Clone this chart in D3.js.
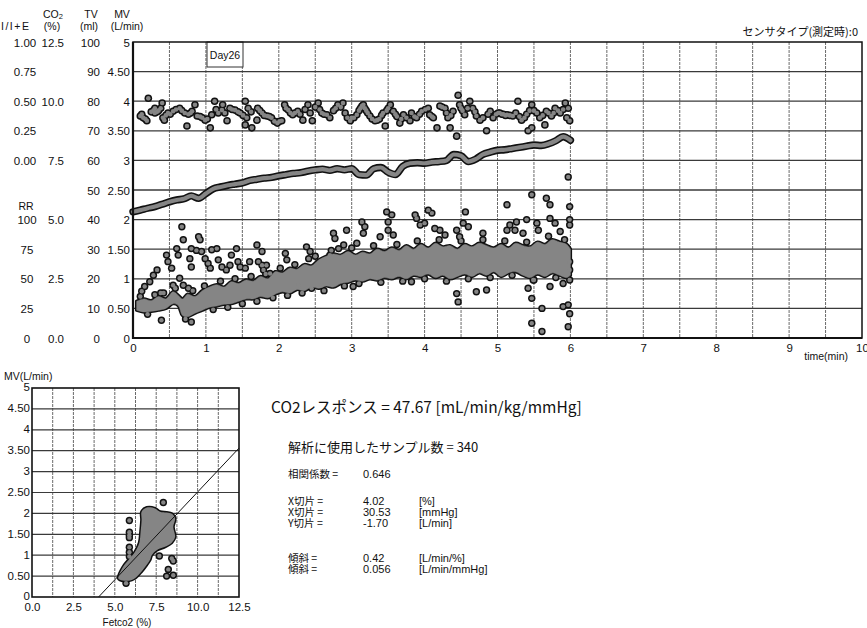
<!DOCTYPE html>
<html>
<head>
<meta charset="utf-8">
<script src="https://cdn.jsdelivr.net/npm/d3@7"></script>
<style>
body { margin: 0; background: #fff; }
svg { display: block; }
text { font-family: "Liberation Sans", Arial, sans-serif; fill: #111; }
.jp { font-family: "Noto Sans CJK JP", sans-serif; }
</style>
</head>
<body>
<script>
var width = 867;
var height = 628;

// ---- axis labels of the trend chart ----
var timeTicks = [0, 1, 2, 3, 4, 5, 6, 7, 8, 9, 10];
var mvTicks = [5, 4.5, 4, 3.5, 3, 2.5, 2, 1.5, 1, 0.5, 0];
var mvLabels = ["5", "4.50", "4", "3.50", "3", "2.50", "2", "1.50", "1", "0.50", "0"];
var tvTicks = [100, 90, 80, 70, 60, 50, 40, 30, 20, 10, 0];
var co2Ticks = [12.5, 10, 7.5, 5, 2.5, 0];
var co2Labels = ["12.5", "10.0", "7.5", "5.0", "2.5", "0.0"];
var ieTicks = [1, 0.75, 0.5, 0.25, 0];
var ieLabels = ["1.00", "0.75", "0.50", "0.25", "0.00"];
var rrTicks = [100, 75, 50, 25, 0];

// EtCO2 (%) every 0.1 min from 0 to 6
var co2Times = d3.range(0, 61).map(function (i) { return i / 10; });
var co2Values = [5.33, 5.40, 5.48, 5.55, 5.65, 5.75, 5.83, 5.88, 6.00, 5.90,
  6.10, 6.30, 6.38, 6.45, 6.50, 6.55, 6.65, 6.70, 6.75, 6.78,
  6.85, 6.90, 6.95, 6.98, 7.05, 7.10, 7.13, 7.08, 7.15, 7.10,
  7.15, 6.90, 6.88, 7.15, 7.20, 7.00, 6.90, 7.25, 7.38, 7.40,
  7.38, 7.43, 7.45, 7.50, 7.75, 7.70, 7.45, 7.55, 7.75, 7.85,
  7.93, 7.95, 8.00, 8.05, 8.10, 8.15, 8.13, 8.20, 8.33, 8.50, 8.35];

// I/I+E samples [time, ratio]
var iePoints = [[0.10,0.375],[0.12,0.39],[0.14,0.36],[0.17,0.35],[0.19,0.335],[0.21,0.525],[0.25,0.41],[0.28,0.42],
  [0.30,0.44],[0.30,0.40],[0.33,0.41],[0.35,0.42],[0.38,0.44],
  [0.40,0.485],[0.41,0.36],[0.43,0.34],[0.45,0.38],[0.48,0.40],[0.51,0.39],[0.55,0.415],[0.59,0.43],[0.64,0.44],
  [0.67,0.42],[0.71,0.40],[0.74,0.29],[0.76,0.39],[0.79,0.40],[0.81,0.415],[0.85,0.47],[0.88,0.375],[0.92,0.37],[0.95,0.36],
  [0.99,0.34],[1.02,0.35],[1.06,0.275],[1.08,0.385],[1.12,0.50],[1.14,0.43],[1.17,0.40],[1.22,0.425],[1.23,0.47],
  [1.26,0.40],[1.29,0.335],[1.33,0.44],[1.36,0.43],[1.40,0.425],[1.44,0.41],[1.47,0.40],[1.51,0.38],[1.54,0.50],
  [1.56,0.36],[1.58,0.44],[1.54,0.30],[1.62,0.41],[1.63,0.275],[1.70,0.34],[1.71,0.44],[1.74,0.42],[1.77,0.40],
  [1.80,0.38],[1.84,0.375],[1.87,0.37],[1.90,0.36],[1.94,0.33],[1.98,0.315],[2.01,0.33],[2.04,0.335],[2.08,0.47],[2.10,0.44],[2.13,0.425],
  [2.16,0.40],[2.19,0.385],[2.22,0.40],[2.26,0.415],[2.29,0.39],[2.33,0.34],[2.36,0.43],[2.40,0.47],[2.43,0.40],[2.46,0.335],
  [2.50,0.45],[2.54,0.485],[2.56,0.43],[2.59,0.40],[2.62,0.39],[2.66,0.385],[2.70,0.36],[2.75,0.42],[2.78,0.44],[2.81,0.47],[2.85,0.45],
  [2.88,0.485],[2.91,0.40],[2.94,0.36],[2.98,0.335],[3.00,0.36],[3.03,0.36],[3.07,0.385],[3.10,0.42],[3.12,0.44],[3.14,0.46],[3.16,0.47],[3.18,0.44],[3.20,0.42],
  [3.22,0.40],[3.25,0.375],[3.28,0.35],[3.32,0.335],[3.35,0.34],[3.38,0.35],[3.41,0.38],[3.43,0.40],[3.46,0.29],[3.48,0.42],[3.50,0.44],[3.53,0.47],[3.57,0.415],
  [3.60,0.39],[3.62,0.37],[3.66,0.315],[3.68,0.35],[3.71,0.385],[3.75,0.36],[3.80,0.335],[3.82,0.40],[3.86,0.37],[3.89,0.36],[3.93,0.39],
  [3.96,0.415],[4.01,0.43],[4.05,0.44],[4.07,0.385],[4.10,0.37],[4.12,0.36],[4.17,0.275],[4.21,0.46],[4.24,0.45],[4.28,0.44],
  [4.30,0.40],[4.32,0.36],[4.35,0.275],[4.36,0.38],[4.39,0.415],[4.44,0.205],[4.46,0.55],[4.48,0.47],[4.50,0.44],[4.52,0.42],[4.55,0.385],
  [4.59,0.44],[4.62,0.50],[4.66,0.44],[4.69,0.41],[4.71,0.375],[4.76,0.34],[4.80,0.36],[4.85,0.25],[4.87,0.39],[4.90,0.415],
  [4.94,0.36],[4.98,0.39],[5.01,0.40],[5.03,0.40],[5.06,0.39],[5.08,0.39],[5.11,0.38],[5.13,0.385],[5.17,0.38],[5.21,0.375],[5.25,0.40],[5.28,0.50],
  [5.30,0.37],[5.33,0.34],[5.37,0.36],[5.40,0.39],[5.42,0.25],[5.44,0.42],[5.47,0.275],[5.47,0.47],[5.50,0.42],[5.54,0.40],[5.58,0.36],[5.62,0.38],
  [5.65,0.30],[5.67,0.415],[5.70,0.40],[5.74,0.375],[5.77,0.40],[5.79,0.44],[5.83,0.42],[5.86,0.40],[5.90,0.43],
  [5.93,0.485],[5.95,0.36],[5.97,0.44],[5.99,0.335]];

// MV dense core [time, low, high] (L/min)
var mvCore = [[0.05,0.47,0.62],[0.15,0.44,0.66],[0.25,0.45,0.63],[0.35,0.47,0.70],[0.45,0.50,0.66],[0.55,0.58,0.78],
  [0.62,0.55,0.72],[0.68,0.38,0.66],[0.75,0.36,0.74],[0.85,0.42,0.70],[0.95,0.47,0.80],[1.05,0.52,0.86],
  [1.15,0.54,0.90],[1.25,0.57,0.86],[1.35,0.58,0.95],[1.45,0.62,0.92],[1.55,0.66,0.98],[1.65,0.66,0.96],
  [1.75,0.70,1.04],[1.85,0.68,1.00],[1.95,0.74,1.12],[2.05,0.78,1.10],[2.15,0.76,1.18],[2.25,0.82,1.16],
  [2.35,0.80,1.24],[2.45,0.86,1.22],[2.55,0.84,1.32],[2.65,0.88,1.38],[2.75,0.86,1.42],[2.85,0.92,1.40],
  [2.95,0.94,1.46],[3.05,0.98,1.40],[3.15,0.96,1.45],[3.25,1.00,1.42],[3.35,0.98,1.50],[3.45,1.02,1.46],
  [3.55,1.00,1.52],[3.65,1.04,1.48],[3.75,1.00,1.56],[3.85,1.06,1.50],[3.95,1.04,1.58],[4.05,1.08,1.52],
  [4.15,1.02,1.60],[4.25,1.06,1.54],[4.35,1.00,1.56],[4.45,1.04,1.50],[4.55,1.08,1.58],[4.65,1.04,1.54],
  [4.75,1.10,1.60],[4.85,1.06,1.56],[4.95,1.12,1.52],[5.05,1.04,1.58],[5.15,1.10,1.52],[5.25,1.12,1.60],
  [5.35,1.06,1.56],[5.45,1.02,1.54],[5.55,1.08,1.62],[5.65,1.04,1.58],[5.75,1.10,1.66],[5.85,1.06,1.62],
  [5.95,1.02,1.58],[6.00,1.06,1.50]];

// MV scattered samples [time, L/min]
var mvPoints = [[0.67,1.88],[0.69,1.66],[0.90,1.71],[0.92,1.66],[0.46,1.40],[0.48,1.29],[0.60,1.51],[0.62,1.40],
  [0.53,1.18],[0.64,1.01],[0.55,0.89],[0.28,1.06],[0.33,1.15],[0.16,0.87],[0.23,0.95],[0.12,0.79],[0.30,0.73],
  [0.42,0.76],[0.39,0.30],[0.80,0.27],[0.80,1.51],[0.87,1.48],[0.94,1.46],[0.78,1.34],[0.80,1.20],[0.69,0.89],
  [0.76,0.84],[0.99,1.34],[1.03,1.26],[1.08,1.49],[1.15,1.51],[1.06,1.18],[1.17,1.32],[1.22,1.20],[1.28,1.15],
  [1.33,1.23],[1.35,1.40],[1.42,1.51],[1.44,1.29],[1.47,1.20],[1.54,1.18],[1.60,1.29],[1.70,1.57],[1.77,1.46],
  [1.72,1.29],[1.77,1.23],[1.83,1.23],[1.88,1.09],[1.79,1.15],[2.09,1.43],[2.11,1.32],[2.38,1.54],[2.43,1.46],
  [2.41,1.34],[2.27,0.89],[2.45,0.84],[2.59,0.89],[2.75,1.77],[2.77,1.68],[2.93,1.82],[2.82,1.51],[2.89,1.57],
  [2.70,1.40],[3.02,0.87],[3.14,1.96],[3.18,1.88],[3.16,1.77],[3.07,1.60],[3.39,1.71],[3.48,2.13],[3.55,2.08],
  [3.50,1.96],[3.50,1.82],[3.57,1.74],[3.82,0.95],[3.87,2.08],[3.89,2.02],[3.94,1.91],[4.00,1.94],[4.05,2.16],
  [4.10,2.11],[4.14,1.85],[4.21,1.82],[4.28,1.74],[4.44,0.75],[4.46,0.61],[4.56,2.13],[4.53,1.94],[4.60,1.88],
  [4.44,1.82],[4.48,1.71],[4.71,0.78],[4.85,0.81],[4.80,1.77],[5.13,2.25],[5.13,1.82],[5.17,1.91],[5.26,1.96],
  [5.24,1.82],[5.35,1.77],[5.47,2.42],[5.40,2.00],[5.54,1.94],[5.56,1.82],[5.67,2.36],[5.72,2.25],[5.72,2.02],
  [5.79,1.94],[5.86,1.80],[5.99,2.22],[5.99,2.00],[5.99,1.91],[5.42,0.84],[5.47,0.67],[5.61,0.50],[5.47,0.25],
  [5.61,0.11],[5.90,0.53],[5.97,0.56],[5.99,0.41],[5.97,0.19],[5.99,0.98],[5.99,1.15],[5.99,1.29],[5.90,0.92],
  [5.72,0.87],[5.49,0.98],[5.97,2.72],
  [0.10,0.70],[0.20,0.40],[0.38,0.76],[0.58,0.84],[0.72,0.32],[0.82,0.80],[0.98,0.88],[1.10,0.48],[1.20,0.96],
  [1.30,0.52],[1.40,1.00],[1.50,0.58],[1.62,1.04],[1.70,0.62],[1.82,1.08],[1.92,0.68],[2.02,1.18],[2.12,0.72],
  [2.22,1.24],[2.32,0.76],[2.50,1.38],[2.62,0.80],[2.72,1.48],[2.90,0.88],[3.00,1.52],[3.10,0.92],[3.30,1.56],
  [3.40,0.94],[3.62,1.58],[3.70,0.96],[3.90,1.64],[4.00,1.00],[4.20,1.66],[4.30,0.96],[4.50,1.64],[4.60,1.00],
  [4.80,1.66],[4.90,1.02],[5.10,1.64],[5.20,1.06],[5.40,1.62],[5.50,0.98],[5.70,1.72],[5.80,1.02],[5.92,1.66]];

// ---- CO2 response scatter (Fetco2 % vs MV L/min) ----
var fTicks = [0, 2.5, 5, 7.5, 10, 12.5];
var fLabels = ["0.0", "2.5", "5.0", "7.5", "10.0", "12.5"];
var blobOutline = [[5.21,0.45],[5.51,0.73],[5.92,0.93],[6.22,1.08],[6.48,1.30],[6.56,1.56],[6.62,1.84],[6.62,2.04],
  [6.93,2.14],[7.43,2.12],[7.73,2.04],[8.13,2.02],[8.44,1.99],[8.64,1.88],[8.53,1.68],[8.64,1.44],[8.44,1.30],
  [8.03,1.20],[7.53,1.12],[7.23,1.00],[7.13,0.89],[6.93,0.77],[6.62,0.61],[6.22,0.45],[5.82,0.39],[5.31,0.41]];
var respPoints = [[7.93,2.26],[5.88,1.83],[5.88,1.55],[5.88,1.48],[5.88,1.42],[5.88,1.19],[5.88,1.07],[5.88,0.97],
  [5.68,0.33],[7.69,0.98],[8.44,0.92],[8.53,0.86],[8.23,0.66],[8.13,0.50],[8.53,0.52]];
var regSlope = 0.42;
var regXint = 4.02;

var statLabels = ["相関係数 =", "X切片 =", "X切片 =", "Y切片 =", "傾斜 =", "傾斜 ="];
var statValues = ["0.646", "4.02", "30.53", "-1.70", "0.42", "0.056"];
var statUnits = ["", "[%]", "[mmHg]", "[L/min]", "[L/min/%]", "[L/min/mmHg]"];

var svg = d3.select("body").append("svg").attr("width", width).attr("height", height);

var x = d3.scaleLinear().domain([0, 10]).range([133, 862]);
var y = d3.scaleLinear().domain([0, 5]).range([338, 42]);
var yCo2 = d3.scaleLinear().domain([0, 12.5]).range([y(0), y(5)]);
var yTv = d3.scaleLinear().domain([0, 100]).range([y(0), y(5)]);
var yIe = d3.scaleLinear().domain([0, 1]).range([y(3), y(5)]);
var yRr = d3.scaleLinear().domain([0, 100]).range([y(0), y(2)]);

function labelAxis(scale, vals, labels, xpos, anchor) {
  var ax = d3.axisLeft(scale).tickValues(vals).tickSize(0).tickPadding(0)
    .tickFormat(function (d, i) { return labels ? labels[i] : d; });
  var g = svg.append("g").attr("transform", "translate(" + xpos + ",0)").call(ax);
  g.select(".domain").remove();
  g.attr("font-family", null).attr("font-size", null);
  g.selectAll("text").attr("text-anchor", anchor).attr("font-size", 11.5).attr("dy", "0.36em");
  return g;
}

// grid
var grid = svg.append("g");
grid.selectAll(".vg").data(d3.range(1, 20)).enter().append("line")
  .attr("x1", function (d) { return x(d / 2); }).attr("x2", function (d) { return x(d / 2); })
  .attr("y1", y(5)).attr("y2", y(0))
  .attr("stroke", "#6a6a6a").attr("stroke-width", 1).attr("stroke-dasharray", "3,1");
grid.selectAll(".hg").data(d3.range(1, 10)).enter().append("line")
  .attr("x1", x(0)).attr("x2", x(10))
  .attr("y1", function (d) { return y(d / 2); }).attr("y2", function (d) { return y(d / 2); })
  .attr("stroke", "#3a3a3a").attr("stroke-width", 1.3);

// Day box
svg.append("rect").attr("x", 207).attr("y", y(5)).attr("width", 36).attr("height", 25)
  .attr("fill", "#fff").attr("stroke", "#333").attr("stroke-width", 1);
svg.append("text").attr("x", 225).attr("y", y(5) + 17).attr("text-anchor", "middle")
  .attr("font-size", 10.5).text("Day26");

// data marks: outline layer then fill layer, so overlapping dots merge
var gray = "#858585";
var bandArea = d3.area().x(function (d) { return x(d[0]); })
  .y0(function (d) { return y(d[1]); }).y1(function (d) { return y(d[2]); })
  .curve(d3.curveCatmullRom);
var co2Line = d3.line().x(function (d, i) { return x(co2Times[i]); })
  .y(function (d) { return yCo2(d); }).curve(d3.curveMonotoneX);

var outl = svg.append("g");
var fill = svg.append("g");
outl.append("path").attr("d", co2Line(co2Values)).attr("fill", "none")
  .attr("stroke", "#111").attr("stroke-width", 7.4).attr("stroke-linejoin", "round").attr("stroke-linecap", "round");
fill.append("path").attr("d", co2Line(co2Values)).attr("fill", "none")
  .attr("stroke", gray).attr("stroke-width", 4.2).attr("stroke-linejoin", "round").attr("stroke-linecap", "round");

outl.append("path").attr("d", bandArea(mvCore)).attr("fill", "#111")
  .attr("stroke", "#111").attr("stroke-width", 3.4).attr("stroke-linejoin", "round");
fill.append("path").attr("d", bandArea(mvCore)).attr("fill", gray).attr("stroke", gray).attr("stroke-width", 0.5);

outl.selectAll(".ie").data(iePoints).enter().append("circle")
  .attr("cx", function (d) { return x(d[0]); }).attr("cy", function (d) { return yIe(d[1]); })
  .attr("r", 3.8).attr("fill", "#111");
fill.selectAll(".ie").data(iePoints).enter().append("circle")
  .attr("cx", function (d) { return x(d[0]); }).attr("cy", function (d) { return yIe(d[1]); })
  .attr("r", 2.3).attr("fill", gray);
outl.selectAll(".mv").data(mvPoints).enter().append("circle")
  .attr("cx", function (d) { return x(d[0]); }).attr("cy", function (d) { return y(d[1]); })
  .attr("r", 3.7).attr("fill", "#111");
fill.selectAll(".mv").data(mvPoints).enter().append("circle")
  .attr("cx", function (d) { return x(d[0]); }).attr("cy", function (d) { return y(d[1]); })
  .attr("r", 2.2).attr("fill", gray);

// frame
svg.append("rect").attr("x", x(0)).attr("y", y(5)).attr("width", x(10) - x(0)).attr("height", y(0) - y(5))
  .attr("fill", "none").attr("stroke", "#111").attr("stroke-width", 1.5);
svg.append("line").attr("x1", x(0)).attr("x2", x(0)).attr("y1", y(5)).attr("y2", y(0) + 1)
  .attr("stroke", "#111").attr("stroke-width", 2.2);
svg.append("line").attr("x1", x(0)).attr("x2", x(10)).attr("y1", y(0)).attr("y2", y(0))
  .attr("stroke", "#111").attr("stroke-width", 2.2);

// time axis
var xa = svg.append("g").attr("transform", "translate(0," + (y(0) + 2) + ")")
  .call(d3.axisBottom(x).tickValues(timeTicks).tickSize(0).tickPadding(4).tickFormat(d3.format("d")));
xa.select(".domain").remove();
xa.attr("font-family", null).attr("font-size", null);
xa.selectAll("text").attr("font-size", 11.5);
svg.append("text").attr("x", 848).attr("y", 360).attr("text-anchor", "end").attr("font-size", 10.5).text("time(min)");

// left label columns
labelAxis(y, mvTicks, mvLabels, 130, "end");
labelAxis(yTv, tvTicks, null, 100, "end");
labelAxis(yCo2, co2Ticks, co2Labels, 64, "end");
labelAxis(yIe, ieTicks, ieLabels, 25, "middle");
labelAxis(yRr, rrTicks, null, 27, "middle");

var hdr = svg.append("g").attr("font-size", 10.5);
hdr.append("text").attr("x", 53).attr("y", 18).attr("text-anchor", "middle").html("CO<tspan font-size='7.5' dy='1'>2</tspan>");
hdr.append("text").attr("x", 91).attr("y", 18).attr("text-anchor", "middle").text("TV");
hdr.append("text").attr("x", 122).attr("y", 18).attr("text-anchor", "middle").text("MV");
hdr.append("text").attr("x", 1).attr("y", 30).attr("letter-spacing", 1.5).text("I/I+E");
hdr.append("text").attr("x", 52).attr("y", 30).attr("text-anchor", "middle").text("(%)");
hdr.append("text").attr("x", 89).attr("y", 30).attr("text-anchor", "middle").text("(ml)");
hdr.append("text").attr("x", 127).attr("y", 30).attr("text-anchor", "middle").text("(L/min)");
hdr.append("text").attr("x", 26).attr("y", 210).attr("text-anchor", "middle").text("RR");

svg.append("text").attr("class", "jp").attr("x", 858).attr("y", 36).attr("text-anchor", "end")
  .attr("font-size", 11).text("センサタイプ(測定時):0");

// ---- response scatter ----
var sx = d3.scaleLinear().domain([0, 12.5]).range([32, 239]);
var sy = d3.scaleLinear().domain([0, 5]).range([597, 388]);
var sg = svg.append("g");
sg.selectAll(".v").data(d3.range(1, 10)).enter().append("line")
  .attr("x1", function (d) { return sx(d * 1.25); }).attr("x2", function (d) { return sx(d * 1.25); })
  .attr("y1", sy(5)).attr("y2", sy(0))
  .attr("stroke", "#6a6a6a").attr("stroke-width", 1).attr("stroke-dasharray", "3,1");
sg.selectAll(".h").data(d3.range(1, 10)).enter().append("line")
  .attr("x1", sx(0)).attr("x2", sx(12.5))
  .attr("y1", function (d) { return sy(d / 2); }).attr("y2", function (d) { return sy(d / 2); })
  .attr("stroke", "#3a3a3a").attr("stroke-width", 1.2);

var blobLine = d3.line().x(function (d) { return sx(d[0]); }).y(function (d) { return sy(d[1]); })
  .curve(d3.curveCatmullRomClosed);
sg.append("path").attr("d", blobLine(blobOutline)).attr("fill", "#111").attr("stroke", "#111").attr("stroke-width", 3);
sg.selectAll(".ro").data(respPoints).enter().append("circle")
  .attr("cx", function (d) { return sx(d[0]); }).attr("cy", function (d) { return sy(d[1]); })
  .attr("r", 3.7).attr("fill", "#111");
sg.append("path").attr("d", blobLine(blobOutline)).attr("fill", gray);
sg.selectAll(".rf").data(respPoints).enter().append("circle")
  .attr("cx", function (d) { return sx(d[0]); }).attr("cy", function (d) { return sy(d[1]); })
  .attr("r", 2.2).attr("fill", gray);

sg.append("line").attr("x1", sx(regXint)).attr("y1", sy(0))
  .attr("x2", sx(12.5)).attr("y2", sy(regSlope * (12.5 - regXint)))
  .attr("stroke", "#111").attr("stroke-width", 1);

sg.append("rect").attr("x", sx(0)).attr("y", sy(5)).attr("width", sx(12.5) - sx(0)).attr("height", sy(0) - sy(5))
  .attr("fill", "none").attr("stroke", "#111").attr("stroke-width", 1.6);

var sya = svg.append("g").attr("transform", "translate(30,-1)")
  .call(d3.axisLeft(sy).tickValues(mvTicks).tickSize(0).tickPadding(0)
    .tickFormat(function (d, i) { return mvLabels[i]; }));
sya.select(".domain").remove();
sya.attr("font-family", null).attr("font-size", null);
sya.selectAll("text").attr("font-size", 11.5).attr("dy", "0.34em");
var sxa = svg.append("g").attr("transform", "translate(0," + (sy(0) + 4) + ")")
  .call(d3.axisBottom(sx).tickValues(fTicks).tickSize(0).tickPadding(2)
    .tickFormat(function (d, i) { return fLabels[i]; }));
sxa.select(".domain").remove();
sxa.attr("font-family", null).attr("font-size", null);
sxa.selectAll("text").attr("font-size", 11.5);
svg.append("text").attr("x", 4).attr("y", 380).attr("font-size", 10.5).text("MV(L/min)");
svg.append("text").attr("x", 127).attr("y", 626).attr("text-anchor", "middle").attr("font-size", 10)
  .text("Fetco2 (%)");

// ---- text block ----
var tb = svg.append("g");
tb.append("text").attr("class", "jp").attr("x", 271).attr("y", 413).attr("font-size", 15.5)
  .text("CO2レスポンス = 47.67 [mL/min/kg/mmHg]");
tb.append("text").attr("class", "jp").attr("x", 288).attr("y", 452).attr("font-size", 13)
  .text("解析に使用したサンプル数 = 340");
var rowY = [478, 505, 516, 527, 562, 573];
statLabels.forEach(function (s, i) {
  tb.append("text").attr("class", "jp").attr("x", 288).attr("y", rowY[i]).attr("font-size", 10.5).text(s);
  tb.append("text").attr("x", 363).attr("y", rowY[i]).attr("font-size", 11).text(statValues[i]);
  tb.append("text").attr("x", 419).attr("y", rowY[i]).attr("font-size", 11).text(statUnits[i]);
});
</script>
</body>
</html>
